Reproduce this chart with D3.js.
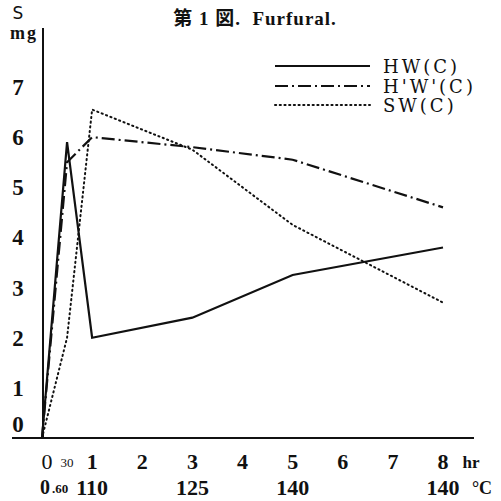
<!DOCTYPE html>
<html>
<head>
<meta charset="utf-8">
<script src="https://cdn.jsdelivr.net/npm/d3@7"></script>
<style>
  body { margin: 0; background: #fff; }
  text { fill: #111; }
</style>
</head>
<body>
<div id="chart"></div>
<script>
// data
const hours = [0, 0.5, 1, 3, 5, 8];
const hwC = [0, 5.9, 2.0, 2.4, 3.25, 3.8];
const hpwpC = [0, 5.5, 6.0, 5.8, 5.55, 4.6];
const swC = [0, 2.0, 6.55, 5.75, 4.25, 2.7];
const seriesNames = ["HW(C)", "H'W'(C)", "SW(C)"];
const yTicks = [0, 1, 2, 3, 4, 5, 6, 7];
const hourTicks = [1, 2, 3, 4, 5, 6, 7, 8];
const tempTicks = [[1, "110"], [3, "125"], [5, "140"], [8, "140"]];

const W = 501, H = 501;
const svg = d3.select("#chart").append("svg")
  .attr("width", W).attr("height", H);

const x = d3.scaleLinear().domain([0, 8]).range([42, 443]);
const y = d3.scaleLinear().domain([0, 7]).range([438, 87]);

const serif = "'Liberation Serif', 'DejaVu Serif', serif";

// title
svg.append("text")
  .attr("x", 255).attr("y", 25)
  .attr("text-anchor", "middle")
  .style("font-family", serif + ", 'Noto Sans CJK JP'")
  .style("font-weight", "bold")
  .style("font-size", "19px")
  .style("letter-spacing", "1px")
  .style("white-space", "pre")
  .text("第 1 図.  Furfural.");

// axes
svg.append("line")
  .attr("x1", x(0) + 1).attr("x2", x(0) + 1)
  .attr("y1", 28).attr("y2", y(0))
  .attr("stroke", "#111").attr("stroke-width", 2);
svg.append("line")
  .attr("x1", 12).attr("x2", 474)
  .attr("y1", y(0)).attr("y2", y(0))
  .attr("stroke", "#111").attr("stroke-width", 2);

// y unit
svg.append("text").attr("x", 18).attr("y", 19)
  .attr("text-anchor", "middle")
  .style("font-family", "'DejaVu Sans', sans-serif").style("font-size", "17px")
  .text("S");
svg.append("text").attr("x", 24).attr("y", 39)
  .attr("text-anchor", "middle")
  .style("font-family", serif).style("font-weight", "bold").style("font-size", "18px")
  .style("letter-spacing", "2px")
  .text("mg");

// y tick labels
svg.selectAll(".ylab").data(yTicks).enter().append("text")
  .attr("class", "ylab")
  .attr("x", 18)
  .attr("y", d => d === 0 ? 432 : y(d) + 8)
  .attr("text-anchor", "middle")
  .style("font-family", serif).style("font-weight", "bold").style("font-size", "23px")
  .text(d => d);

// x tick labels, hours
const xl = svg.append("g")
  .style("font-family", serif).style("font-weight", "bold");
xl.append("text").attr("x", 47).attr("y", 469).attr("text-anchor", "middle")
  .style("font-weight", "normal").style("font-size", "22px").text("0");
xl.append("text").attr("x", x(0.5)).attr("y", 467).attr("text-anchor", "middle")
  .style("font-weight", "normal").style("font-size", "13px").text("30");
xl.selectAll(".hr").data(hourTicks).enter().append("text")
  .attr("x", d => x(d)).attr("y", 469).attr("text-anchor", "middle")
  .style("font-size", "22px")
  .text(d => d);
xl.append("text").attr("x", 471).attr("y", 468).attr("text-anchor", "middle")
  .style("font-size", "17px").text("hr");

// x tick labels, temperature
xl.append("text").attr("x", 45).attr("y", 494).attr("text-anchor", "middle")
  .style("font-size", "20px").text("0");
xl.append("text").attr("x", 52).attr("y", 493)
  .style("font-size", "13px").text(".60");
xl.selectAll(".tc").data(tempTicks).enter().append("text")
  .attr("x", d => x(d[0])).attr("y", 495).attr("text-anchor", "middle")
  .style("font-size", "22px")
  .text(d => d[1]);
xl.append("text").attr("x", 482).attr("y", 494).attr("text-anchor", "middle")
  .style("font-size", "18px").text("°C");

// lines
const styles = [
  { vals: hwC, dash: null, width: 2.2, cap: "butt" },
  { vals: hpwpC, dash: "13,4,2,4", width: 2.2, cap: "butt" },
  { vals: swC, dash: "1.2,3.5", width: 2, cap: "round" }
];

const line = d3.line()
  .x(d => x(d[0]))
  .y(d => y(d[1]));

styles.forEach(s => {
  svg.append("path")
    .datum(hours.map((h, i) => [h, s.vals[i]]))
    .attr("fill", "none")
    .attr("stroke", "#111")
    .attr("stroke-width", s.width)
    .attr("stroke-linecap", s.cap)
    .attr("stroke-dasharray", s.dash)
    .attr("d", line);
});

// legend
const legendY = [66, 86, 105];
styles.forEach((s, i) => {
  svg.append("line")
    .attr("x1", 275).attr("x2", 370)
    .attr("y1", legendY[i]).attr("y2", legendY[i])
    .attr("stroke", "#111")
    .attr("stroke-width", s.width)
    .attr("stroke-linecap", s.cap)
    .attr("stroke-dasharray", s.dash);
  svg.append("text")
    .attr("x", 383).attr("y", legendY[i] + 7)
    .style("font-family", "'DejaVu Serif', serif")
    .style("font-size", "18px")
    .style("letter-spacing", "3px")
    .text(seriesNames[i]);
});
</script>
</body>
</html>
